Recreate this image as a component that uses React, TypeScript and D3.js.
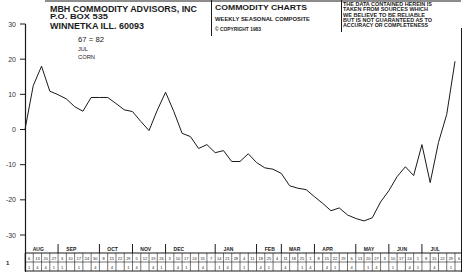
import React from "react";
import * as d3 from "d3";

const weeks: number[] = d3.range(53);
const values: number[] = [
  0, 12.5, 18, 10.9, 9.9, 8.7, 6.5, 5.2, 9.1, 9.1, 9.1, 7.4, 5.6, 5.1, 2.3, -0.3,
  5.5, 10.6, 5.1, -1.1, -2.0, -5.4, -4.3, -6.6, -6.0, -9.1, -9.1, -6.9, -9.4, -10.9,
  -11.3, -12.5, -16.0, -16.7, -17.1, -19.1, -21.0, -23.1, -22.3, -24.3, -25.3, -26.0,
  -25.1, -20.6, -17.4, -13.4, -10.6, -13.1, -4.3, -15.1, -3.7, 4.3, 19.4,
];
const yTicks: number[] = [30, 20, 10, 0, -10, -20, -30];
const months: string[] = ["AUG", "SEP", "OCT", "NOV", "DEC", "JAN", "FEB", "MAR", "APR", "MAY", "JUN", "JUL"];
const monthStartWeek: number[] = [0, 4, 9, 13, 17, 23, 28, 31, 35, 40, 44, 48];
const weekDays: number[] = [
  6, 13, 20, 27, 3, 10, 17, 24, 30, 8, 15, 22, 29, 5, 12, 19, 26, 3, 10, 17, 24, 31, 7,
  14, 21, 28, 4, 11, 18, 25, 4, 11, 18, 25, 1, 8, 15, 22, 29, 6, 13, 20, 27, 3, 10, 17,
  24, 1, 8, 15, 22, 29, 6,
];
const weekDigits: string[] = [
  "1", "4", "4", "1", "1", "", "1", "", "4", "", "4", "", "1", "4", "", "4", "1", "", "4", "1", "",
  "4", "", "1", "4", "", "1", "", "4", "1", "", "4", "", "1", "4", "", "4", "1", "", "4", "",
  "1", "4", "", "1", "", "4", "1", "", "4", "", "1", "",
];
const headerLeft: string[] = ["MBH COMMODITY ADVISORS, INC", "P.O. BOX 535", "WINNETKA ILL. 60093"];
const chartInfo: string[] = ["67 =  82", "JUL", "CORN"];
const headerMid: string[] = ["COMMODITY CHARTS", "WEEKLY SEASONAL COMPOSITE", "© COPYRIGHT 1983"];
const disclaimer: string[] = [
  "THE DATA CONTAINED HEREIN IS",
  "TAKEN FROM SOURCES WHICH",
  "WE BELIEVE TO BE RELIABLE",
  "BUT IS NOT GUARANTEED AS TO",
  "ACCURACY OR COMPLETENESS",
];

export default function App() {
  const W = 463, H = 277;
  const x = d3.scaleLinear().domain([0, 52]).range([25, 455]);
  const y = d3.scaleLinear().domain([-30, 30]).range([235, 24]);
  const line = d3.line<number>().x((_, i) => x(weeks[i])).y((d) => y(d));
  const step = x(1) - x(0);
  const ink = "#1a1a1a";
  const font = "'Liberation Sans', Arial, sans-serif";
  const gTop = 253, gMid = 262, gBot = 271;

  const leftY = [12, 19, 29];
  const leftSize = [9.5, 7, 9.5];
  const leftW = [147, 58, 94];
  const infoY = [42, 51, 59];
  const infoW = [26, 10, 17];
  const midY = [10, 21, 31];
  const midSize = [8, 4.5, 5];
  const midW = [92, 95, 46];
  const discW = [89, 85, 82, 89, 85];

  return (
    <svg width={W} height={H} style={{ position: "absolute", left: 0, top: 0, background: "#fff" }} fontFamily={font}>
      <rect width={W} height={H} fill="#fff" />
      {/* header */}
      <line x1={45} x2={461} y1={1} y2={1} stroke={ink} strokeWidth={1} />
      <line x1={211.5} x2={211.5} y1={0} y2={36} stroke={ink} strokeWidth={1} />
      <line x1={341.5} x2={341.5} y1={0} y2={32} stroke={ink} strokeWidth={1} />
      <line x1={461.5} x2={461.5} y1={28} y2={272} stroke={ink} strokeWidth={1} />
      {headerLeft.map((t, i) => (
        <text key={t} x={50} y={leftY[i]} fontSize={leftSize[i]} fontWeight="bold" fill={ink}
          textLength={leftW[i]} lengthAdjust="spacingAndGlyphs">{t}</text>
      ))}
      {chartInfo.map((t, i) => (
        <text key={t} x={78} y={infoY[i]} fontSize={i === 0 ? 6.5 : 5.5} fill={ink}
          textLength={infoW[i]} lengthAdjust="spacingAndGlyphs">{t}</text>
      ))}
      {headerMid.map((t, i) => (
        <text key={t} x={215} y={midY[i]} fontSize={midSize[i]} fontWeight="bold" fill={ink}
          textLength={midW[i]} lengthAdjust="spacingAndGlyphs">{t}</text>
      ))}
      {disclaimer.map((t, i) => (
        <text key={t} x={343} y={6 + i * 5.3} fontSize={4.6} fontWeight="bold" fill={ink}
          textLength={discW[i]} lengthAdjust="spacingAndGlyphs">{t}</text>
      ))}
      {/* y axis */}
      <line x1={25.5} x2={25.5} y1={y(30)} y2={gBot + 1} stroke={ink} strokeWidth={1.2} />
      {yTicks.map((v) => (
        <g key={v}>
          <line x1={20} x2={25.5} y1={y(v)} y2={y(v)} stroke={ink} strokeWidth={1} />
          <text x={16} y={y(v) + 2.5} fontSize={7} textAnchor="end" fill="#333">{v}</text>
        </g>
      ))}
      {/* series */}
      <path d={line(values) || ""} fill="none" stroke={ink} strokeWidth={1} strokeLinejoin="round" />
      {/* date grid */}
      <line x1={25} x2={461} y1={gTop} y2={gTop} stroke={ink} strokeWidth={1} />
      <line x1={25} x2={461} y1={gMid} y2={gMid} stroke={ink} strokeWidth={0.6} />
      <line x1={25} x2={461} y1={gBot} y2={gBot} stroke={ink} strokeWidth={1} />
      {weeks.map((w) => (
        <line key={"v" + w} x1={x(w)} x2={x(w)} y1={gTop} y2={gBot} stroke={ink} strokeWidth={0.6} />
      ))}
      {weeks.map((w) => (
        <text key={"d" + w} x={x(w) + step / 2} y={gMid - 2.5} fontSize={4} textAnchor="middle" fill={ink}>
          {weekDays[w]}
        </text>
      ))}
      {weeks.map((w) => (
        <text key={"g" + w} x={x(w) + step / 2} y={gBot - 2} fontSize={4} textAnchor="middle" fill={ink}>
          {weekDigits[w]}
        </text>
      ))}
      {months.map((m, i) => (
        <g key={m}>
          {i > 0 && (
            <line x1={x(monthStartWeek[i])} x2={x(monthStartWeek[i])} y1={244} y2={gTop} stroke={ink} strokeWidth={1} />
          )}
          <text x={x(monthStartWeek[i]) + 1.6 * step} y={251} fontSize={5} fontWeight="bold" textAnchor="middle" fill={ink}>
            {m}
          </text>
        </g>
      ))}
      <text x={6} y={265} fontSize={6} fontWeight="bold" fill={ink}>1</text>
    </svg>
  );
}
